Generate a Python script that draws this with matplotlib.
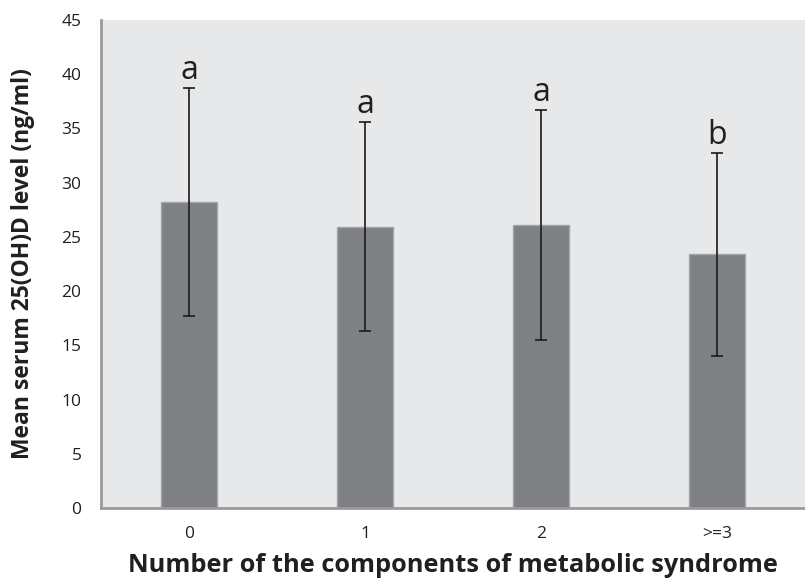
import numpy as np
import matplotlib.pyplot as plt

# group means and SDs
groups = ['0', '1', '2', '>=3']
means = [28.25, 25.95, 26.1, 23.4]
sds = [10.5, 9.65, 10.6, 9.35]
letters = ['a', 'a', 'a', 'b']

plt.rcParams['font.family'] = ['Open Sans', 'DejaVu Sans']

fig = plt.figure(figsize=(8.05, 5.79), dpi=100)
ax = fig.add_axes([0.1255, 0.1226, 0.8745, 0.8429])
ax.set_facecolor('#e7e8ea')

x = np.arange(len(groups))
ax.bar(x, means, width=0.32, color='#7f8084', edgecolor='#a3a4a7', linewidth=1)
ax.errorbar(x, means, yerr=sds, fmt='none', ecolor='#1a1a1a', elinewidth=1.2,
            capsize=4.3, capthick=1.2)

for i in range(len(groups)):
    ax.text(x[i], means[i] + sds[i] + 0.1, letters[i], ha='center', va='bottom',
            fontsize=23, color='#231f20')

ax.set_xlim(-0.5, 3.5)
ax.set_ylim(0, 45)
ax.set_yticks(np.arange(0, 46, 5))
ax.set_xticks(x)
ax.set_xticklabels(groups)
ax.tick_params(length=0, labelsize=12.5, colors='#231f20')
ax.tick_params(axis='x', pad=13)
ax.tick_params(axis='y', pad=14)

for s in ['top', 'right']:
    ax.spines[s].set_visible(False)
for s in ['left', 'bottom']:
    ax.spines[s].set_color('#9a9a9c')
    ax.spines[s].set_linewidth(2)

ax.set_xlabel('Number of the components of metabolic syndrome', fontsize=18.3,
              fontweight='bold', color='#231f20', labelpad=8)
ax.set_ylabel('Mean serum 25(OH)D level (ng/ml)', fontsize=16.5,
              fontweight='bold', color='#231f20', labelpad=19)

plt.savefig('out.png', dpi=100)
